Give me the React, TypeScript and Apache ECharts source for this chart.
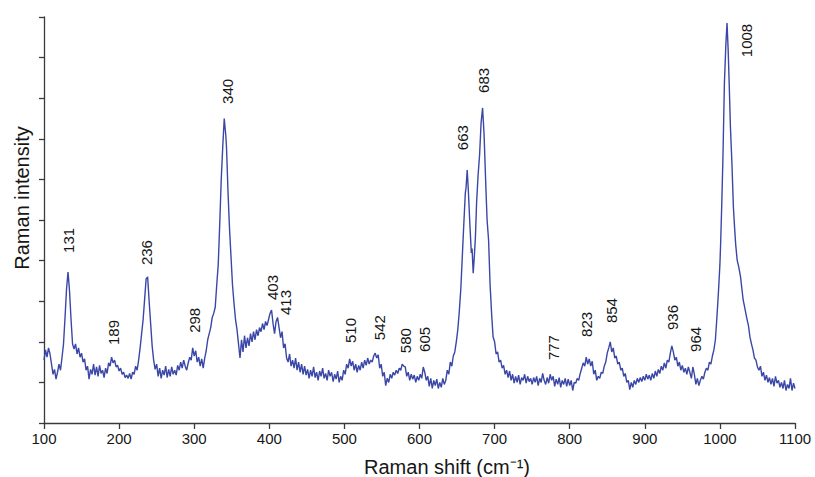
import React, { useEffect, useRef } from "react";
import * as echarts from "echarts";

// Raman spectrum, [shift in cm⁻¹, intensity in arbitrary units]
const bandLow: [number, number][] = [
  [100, 1.55], [102, 1.8], [104, 1.62], [106, 1.85], [108, 1.7], [110, 1.45], [112, 1.2], [114, 1.32],
  [116, 1.08], [118, 1.25], [120, 1.45], [122, 1.3], [124, 1.62], [126, 1.95], [128, 2.6], [130, 3.3],
  [132, 3.72], [134, 3.25], [136, 2.55], [138, 1.95], [140, 1.82], [142, 1.95], [144, 1.7], [146, 1.85],
  [148, 1.62], [150, 1.72], [152, 1.5], [154, 1.58], [156, 1.3], [158, 1.4], [160, 1.08], [162, 1.32],
  [164, 1.2], [166, 1.45], [168, 1.18], [170, 1.38], [172, 1.15], [174, 1.42], [176, 1.22], [178, 1.3],
  [180, 1.12], [182, 1.35], [184, 1.22], [186, 1.48], [188, 1.4], [190, 1.62], [192, 1.48], [194, 1.55],
  [196, 1.38], [198, 1.42], [200, 1.28], [202, 1.35], [204, 1.2], [206, 1.25], [208, 1.12], [210, 1.18],
  [212, 1.1], [214, 1.22], [216, 1.08], [218, 1.25], [220, 1.2], [222, 1.4], [224, 1.3], [226, 1.55],
  [228, 1.85], [230, 2.2], [232, 2.55], [234, 3.05], [236, 3.55], [238, 3.6], [240, 3.0], [242, 2.45],
  [244, 1.9], [246, 1.55], [248, 1.32], [250, 1.45], [252, 1.15], [254, 1.35], [256, 1.1], [258, 1.3],
  [260, 1.18], [262, 1.4], [264, 1.12], [266, 1.32], [268, 1.15], [270, 1.38], [272, 1.2], [274, 1.3],
  [276, 1.18], [278, 1.42], [280, 1.3], [282, 1.5], [284, 1.35], [286, 1.55], [288, 1.4], [290, 1.3],
  [292, 1.48], [294, 1.62], [296, 1.55], [298, 1.85], [300, 1.65], [302, 1.78], [304, 1.5], [306, 1.62],
  [308, 1.4], [310, 1.58], [312, 1.35], [314, 1.6], [316, 1.78], [318, 2.05], [320, 2.2],
];

const band340: [number, number][] = [
  [322, 2.35], [324, 2.6], [326, 2.7], [328, 2.85], [330, 3.4], [332, 3.9], [334, 4.9], [336, 6.0],
  [338, 6.8], [340, 7.5], [342, 7.1], [343, 6.8], [345, 5.7], [347, 4.8], [349, 4.1], [351, 3.4],
  [353, 2.95], [355, 2.55], [357, 2.3], [359, 1.95], [361, 1.6], [363, 2.05], [365, 1.75], [367, 2.15],
  [369, 1.85], [371, 2.1], [373, 1.9], [375, 2.2], [377, 2.0], [379, 2.25], [381, 2.05], [383, 2.3],
  [385, 2.15], [387, 2.35], [389, 2.25], [391, 2.45], [393, 2.3], [395, 2.5], [397, 2.4], [399, 2.55],
  [401, 2.7], [403, 2.78], [405, 2.45], [407, 2.2], [409, 2.5], [411, 2.6], [413, 2.35], [415, 2.1],
  [417, 2.25], [419, 1.85], [421, 1.95], [423, 1.6], [425, 1.5], [427, 1.7], [429, 1.4],
];

const bandMid: [number, number][] = [
  [431, 1.55], [433, 1.35], [435, 1.6], [437, 1.3], [439, 1.5], [441, 1.25], [443, 1.45], [445, 1.2],
  [447, 1.4], [449, 1.18], [451, 1.32], [453, 1.1], [455, 1.3], [457, 1.15], [459, 1.38], [461, 1.12],
  [463, 1.25], [465, 1.05], [467, 1.28], [469, 1.15], [471, 1.35], [473, 1.1], [475, 1.22], [477, 1.05],
  [479, 1.3], [481, 1.15], [483, 1.25], [485, 1.02], [487, 1.2], [489, 1.08], [491, 1.28], [493, 1.0],
  [495, 1.15], [497, 1.05], [499, 1.3], [501, 1.2], [503, 1.45], [505, 1.35], [507, 1.58], [509, 1.4],
  [511, 1.52], [513, 1.3], [515, 1.45], [517, 1.25], [519, 1.42], [521, 1.3], [523, 1.5], [525, 1.35],
  [527, 1.55], [529, 1.42], [531, 1.6], [533, 1.45], [535, 1.55], [537, 1.5], [539, 1.65], [541, 1.72],
  [543, 1.6], [545, 1.68], [547, 1.35], [549, 1.45], [551, 1.15], [553, 1.25], [555, 0.92], [557, 1.1],
  [559, 1.0], [561, 1.2], [563, 1.1], [565, 1.25], [567, 1.18], [569, 1.3], [571, 1.22], [573, 1.35],
  [575, 1.3], [577, 1.45], [579, 1.4], [581, 1.38], [583, 1.15], [585, 1.25], [587, 1.05], [589, 1.2],
  [591, 1.08], [593, 1.18], [595, 1.0], [597, 1.15], [599, 1.05], [601, 1.2], [603, 1.1], [605, 1.38],
  [607, 1.25], [609, 1.05], [611, 1.15], [613, 0.9], [615, 1.1], [617, 0.85], [619, 1.05], [621, 0.92],
  [623, 1.08], [625, 0.85], [627, 1.0], [629, 0.88], [631, 1.1], [633, 0.95], [635, 1.05], [637, 1.3],
  [639, 1.2],
];

const band680: [number, number][] = [
  [641, 1.5], [643, 1.4], [645, 1.65], [647, 1.75], [649, 2.0], [651, 2.3], [653, 2.75], [655, 3.3],
  [657, 4.1], [659, 4.9], [661, 5.66], [662, 5.8], [663.5, 6.23], [665, 5.74], [667, 4.92], [669, 4.19],
  [670, 4.3], [671.5, 3.69], [673, 4.1], [674.5, 4.6], [676, 5.42], [678, 6.1], [680, 6.6], [682, 7.39],
  [684, 7.76], [686, 7.1], [688.5, 5.74], [690, 5.0], [692, 4.5], [694, 3.4], [696, 2.7], [698, 2.12],
  [700, 2.0], [702, 1.7], [704, 1.75], [706, 1.5], [708, 1.55], [710, 1.35], [712, 1.42], [714, 1.2],
  [716, 1.3], [718, 1.12], [720, 1.28],
];

const bandHigh: [number, number][] = [
  [722, 1.05], [724, 1.2], [726, 0.98], [728, 1.15], [730, 1.0], [732, 1.18], [734, 0.95], [736, 1.12],
  [738, 1.05], [740, 1.2], [742, 0.98], [744, 1.15], [746, 1.02], [748, 1.1], [750, 0.95], [752, 1.12],
  [754, 1.0], [756, 1.15], [758, 0.92], [760, 1.1], [762, 1.0], [764, 1.22], [766, 1.05], [768, 0.95],
  [770, 1.12], [772, 0.98], [774, 1.2], [776, 1.05], [778, 1.15], [780, 0.9], [782, 1.08], [784, 0.95],
  [786, 1.12], [788, 0.88], [790, 1.05], [792, 0.95], [794, 1.1], [796, 0.9], [798, 1.08], [800, 0.92],
  [802, 1.05], [804, 0.8], [806, 1.0], [808, 0.98], [810, 1.1], [812, 1.05], [814, 1.22], [816, 1.35],
  [818, 1.48], [820, 1.4], [822, 1.62], [824, 1.45], [826, 1.58], [828, 1.4], [830, 1.52], [832, 1.2],
  [834, 1.3], [836, 1.05], [838, 1.15], [840, 1.1], [842, 1.25], [844, 1.22], [846, 1.4], [848, 1.5],
  [850, 1.72], [852, 1.85], [854, 2.0], [856, 1.75], [858, 1.85], [860, 1.6], [862, 1.65], [864, 1.45],
  [866, 1.5], [868, 1.3], [870, 1.35], [872, 1.15], [874, 1.22], [876, 1.0], [878, 1.05], [880, 0.82],
  [882, 1.0], [884, 0.88], [886, 1.05], [888, 0.95], [890, 1.1], [892, 1.0], [894, 1.12], [896, 1.02],
  [898, 1.15], [900, 1.05], [902, 1.2], [904, 1.08], [906, 1.18], [908, 1.05], [910, 1.22], [912, 1.1],
  [914, 1.28], [916, 1.15], [918, 1.32], [920, 1.22], [922, 1.4], [924, 1.3], [926, 1.48], [928, 1.35],
  [930, 1.55], [932, 1.5], [934, 1.72], [936, 1.9], [938, 1.75], [940, 1.55], [942, 1.62], [944, 1.4],
  [946, 1.5], [948, 1.3], [950, 1.42], [952, 1.25], [954, 1.35], [956, 1.2], [958, 1.38], [960, 1.25],
  [962, 1.1], [964, 1.38], [966, 1.2], [968, 0.95], [970, 1.1], [972, 0.92], [974, 1.05], [976, 1.15],
  [978, 1.08], [980, 1.25], [982, 1.35], [984, 1.3], [986, 1.5], [988, 1.45], [990, 1.65],
];

const band1008: [number, number][] = [
  [992, 1.8], [994, 2.05], [996, 2.6], [998, 3.2], [1000, 3.9], [1001, 4.43], [1002.5, 5.4], [1004, 6.5],
  [1006, 8.37], [1008, 9.35], [1009.5, 9.85], [1011, 9.19], [1012.5, 8.28], [1014, 7.3], [1016, 6.4],
  [1018, 5.3], [1019.5, 4.83], [1021, 4.4], [1023, 4.01], [1025, 3.85], [1027.5, 3.6], [1029, 3.35],
  [1031, 3.03], [1033, 2.85], [1035.5, 2.61], [1038, 2.4], [1040, 2.12], [1042, 1.95], [1044, 1.8],
  [1046, 1.6], [1048, 1.55], [1050, 1.38], [1052, 1.3], [1054, 1.4], [1056, 1.15], [1058, 1.25],
  [1060, 1.05], [1062, 1.18], [1064, 1.0], [1066, 1.12], [1068, 0.95], [1070, 1.1], [1072, 0.9],
  [1074, 1.15], [1076, 0.98], [1078, 1.05], [1080, 0.88], [1082, 1.0], [1084, 0.85], [1086, 1.05],
  [1088, 0.8], [1090, 0.95], [1092, 0.85], [1094, 1.1], [1096, 0.8], [1098, 0.98], [1100, 0.85],
];

// Assigned band positions and where each label starts (shift, intensity at the label's base)
const peakNames = ["131", "189", "236", "298", "340", "403", "413", "510", "542", "580", "605",
  "663", "683", "777", "823", "854", "936", "964", "1008"];
const peakLabelShift = [132, 192, 237, 300, 344, 404, 421, 508, 547, 581, 607,
  657, 685, 778, 823, 856, 937.5, 967, 1036];
const peakLabelBase = [4.19, 1.92, 3.89, 2.22, 7.86, 3.03, 2.66, 1.97, 2.04, 1.72, 1.75,
  6.72, 8.13, 1.55, 2.12, 2.46, 2.29, 1.75, 9.01];

const xTicks = { min: 100, max: 1100, step: 100 };
const yTicks = { min: 0, max: 10, step: 1 };

const FONT = "'Liberation Sans', Arial, Helvetica, sans-serif";
const INK = "#161616";
const AXIS = "#3a3a3a";
const TRACE = "#3a47a6";

export default function App() {
  const ref = useRef<HTMLDivElement>(null);

  useEffect(() => {
    if (!ref.current) return;
    const chart = echarts.init(ref.current, undefined, { renderer: "svg" });
    const spectrum = [...bandLow, ...band340, ...bandMid, ...band680, ...bandHigh, ...band1008];
    const labels = peakNames.map((name, i) => ({
      name,
      value: [peakLabelShift[i], peakLabelBase[i]],
    }));

    chart.setOption({
      animation: false,
      backgroundColor: "#ffffff",
      grid: { left: 44, right: 20, top: 17, bottom: 54 },
      xAxis: {
        type: "value",
        min: xTicks.min,
        max: xTicks.max,
        interval: xTicks.step,
        axisLine: { show: true, lineStyle: { color: AXIS, width: 1.3 } },
        axisTick: { show: true, length: 6, lineStyle: { color: AXIS, width: 1.3 } },
        axisLabel: {
          fontSize: 15,
          color: INK,
          margin: 8,
          fontFamily: FONT,
          formatter: (v: number) => String(v),
        },
        splitLine: { show: false },
      },
      yAxis: {
        type: "value",
        min: yTicks.min,
        max: yTicks.max,
        interval: yTicks.step,
        axisLine: { show: true, lineStyle: { color: AXIS, width: 1.3 } },
        axisTick: { show: true, length: 5, lineStyle: { color: AXIS, width: 1.3 } },
        axisLabel: { show: false },
        splitLine: { show: false },
      },
      series: [
        {
          type: "line",
          data: spectrum,
          symbol: "none",
          showSymbol: false,
          lineStyle: { color: TRACE, width: 1.4 },
          z: 2,
        },
        {
          type: "scatter",
          data: labels,
          symbolSize: 1,
          itemStyle: { color: "rgba(0,0,0,0)", opacity: 1 },
          label: {
            show: true,
            formatter: "{b}",
            position: "inside",
            rotate: 90,
            align: "left",
            verticalAlign: "middle",
            fontSize: 15,
            color: INK,
            opacity: 1,
            fontFamily: FONT,
          },
          z: 3,
        },
      ],
      graphic: [
        {
          type: "text",
          x: 22,
          y: 198,
          rotation: Math.PI / 2,
          style: {
            text: "Raman intensity",
            fontSize: 20,
            fontFamily: FONT,
            fill: INK,
            align: "center",
            verticalAlign: "middle",
          },
        },
        {
          type: "text",
          x: 447,
          y: 467,
          style: {
            text: "Raman shift (cm\u207B\u00B9)",
            fontSize: 20,
            fontFamily: FONT,
            fill: INK,
            align: "center",
            verticalAlign: "middle",
          },
        },
      ],
    });

    return () => chart.dispose();
  }, []);

  return (
    <div
      ref={ref}
      style={{ position: "fixed", left: 0, top: 0, width: 815, height: 477, background: "#fff" }}
    />
  );
}
